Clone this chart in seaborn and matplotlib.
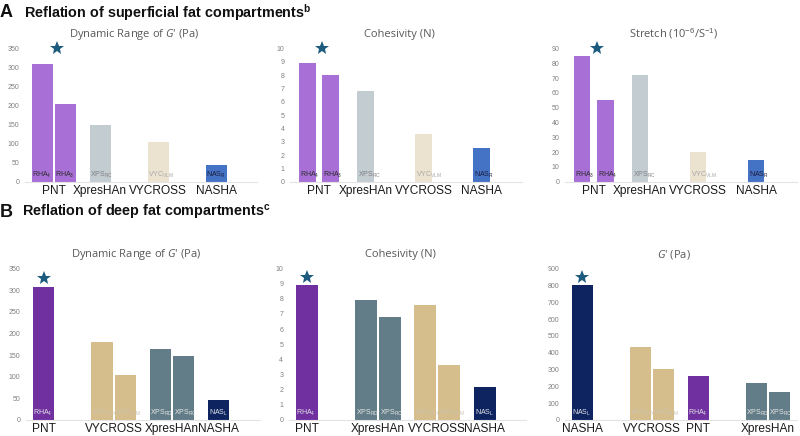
"""
Reflation of superficial / deep fat compartments: rheology bar panels.
"""

import matplotlib
matplotlib.use("Agg")
import matplotlib.pyplot as plt
import seaborn as sns
import pandas as pd

# ---- data -----------------------------------------------------------------
# top row (superficial), one entry per bar
top_brand = ["PNT", "PNT", "XpresHAn", "VYCROSS", "NASHA"]
top_slot = [0, 1, 0, 0, 0]
top_names = ["RHA$_4$", "RHA$_3$", r"XPS$_{\mathrm{RC}}$", r"VYC$_{\mathrm{VLM}}$", r"NAS$_{\mathrm{R}}$"]
top_names_stretch = ["RHA$_3$", "RHA$_4$", r"XPS$_{\mathrm{RC}}$", r"VYC$_{\mathrm{VLM}}$", r"NAS$_{\mathrm{R}}$"]
top_order = ["PNT", "XpresHAn", "VYCROSS", "NASHA"]
sup_g_range = [308, 204, 149, 104, 44]
sup_cohesivity = [8.9, 8.0, 6.8, 3.6, 2.5]
sup_stretch = [85, 55, 72, 20, 15]

# bottom row (deep)
deep_g_range_brand = ["PNT", "VYCROSS", "VYCROSS", "XpresHAn", "XpresHAn", "NASHA"]
deep_g_range_slot = [0, 0, 1, 0, 1, 0]
deep_g_range_names = ["RHA$_4$", r"VYC$_{\mathrm{VLX}}$", r"VYC$_{\mathrm{VLM}}$",
                      r"XPS$_{\mathrm{RD}}$", r"XPS$_{\mathrm{RC}}$", r"NAS$_{\mathrm{L}}$"]
deep_g_range = [308, 180, 103, 163, 148, 45]

deep_coh_brand = ["PNT", "XpresHAn", "XpresHAn", "VYCROSS", "VYCROSS", "NASHA"]
deep_coh_slot = [0, 0, 1, 0, 1, 0]
deep_coh_names = ["RHA$_4$", r"XPS$_{\mathrm{RD}}$", r"XPS$_{\mathrm{RC}}$",
                  r"VYC$_{\mathrm{VLX}}$", r"VYC$_{\mathrm{VLM}}$", r"NAS$_{\mathrm{L}}$"]
deep_cohesivity = [8.9, 7.9, 6.8, 7.6, 3.6, 2.2]

deep_g_brand = ["NASHA", "VYCROSS", "VYCROSS", "PNT", "XpresHAn", "XpresHAn"]
deep_g_slot = [0, 0, 1, 0, 0, 1]
deep_g_names = [r"NAS$_{\mathrm{L}}$", r"VYC$_{\mathrm{VLX}}$", r"VYC$_{\mathrm{VLM}}$",
                "RHA$_4$", r"XPS$_{\mathrm{RD}}$", r"XPS$_{\mathrm{RC}}$"]
deep_g_prime = [803, 436, 301, 260, 218, 168]

# colours per product line
top_colors = {"PNT": "#a86fd6", "XpresHAn": "#c3ccd0", "VYCROSS": "#ece2d0", "NASHA": "#4472c4"}
top_text = {"PNT": "#2a2a2a", "XpresHAn": "#808080", "VYCROSS": "#a8a8a8", "NASHA": "#1c1c3c"}
deep_colors = {"PNT": "#7030a0", "XpresHAn": "#637d88", "VYCROSS": "#d5bd8c", "NASHA": "#0d2461"}
deep_text = {"PNT": "#e6e6e6", "XpresHAn": "#e6e6e6", "VYCROSS": "#ccc4b4", "NASHA": "#e6e6e6"}
STAR = "#1c5b7e"

# ---- style ----------------------------------------------------------------
sns.set_theme(style="white")
plt.rcParams["font.family"] = ["Liberation Sans", "DejaVu Sans"]
plt.rcParams["mathtext.fontset"] = "custom"
plt.rcParams["mathtext.rm"] = "Liberation Sans"
plt.rcParams["mathtext.it"] = "Open Sans:italic"
plt.rcParams["mathtext.bf"] = "Liberation Sans:bold"


def panel(ax, brand, slot, names, values, order, colors, tcolors, title,
          ymax, ystep, gap, star_top):
    df = pd.DataFrame({"brand": brand, "slot": slot, "name": names, "value": values})
    sns.barplot(data=df, x="brand", y="value", hue="slot", hue_order=[0, 1],
                order=order, dodge=True, gap=gap, legend=False, ax=ax,
                palette=["#999999", "#999999"], saturation=1)

    # recolour every bar by its product line and add the inner label
    rank = {b: i for i, b in enumerate(order)}
    centers = {}
    for s, cont in zip([0, 1], ax.containers):
        sub = df[df["slot"] == s].copy()
        sub["r"] = sub["brand"].map(rank)
        sub = sub.sort_values("r")
        for bar, (_, row) in zip(cont, sub.iterrows()):
            bar.set_facecolor(colors[row["brand"]])
            bar.set_edgecolor("none")
            ax.annotate(row["name"], (bar.get_x(), 0), xytext=(0.5, 1.5),
                        textcoords="offset points", ha="left", va="bottom",
                        fontsize=5.0, color=tcolors[row["brand"]])
            centers.setdefault(row["brand"], []).append(
                (bar.get_x() + bar.get_width() / 2, bar.get_height()))

    # category labels sit under their bars
    ticks = [sum(c[0] for c in centers[b]) / len(centers[b]) for b in order]
    ax.set_xticks(ticks)
    ax.set_xticklabels(order, fontsize=8.6, color="#1a1a1a")
    ax.tick_params(axis="x", length=0, pad=2)
    ax.set_xlim(-0.5, len(order) - 0.5)

    ax.set_ylim(0, ymax)
    ax.set_yticks([ystep * i for i in range(int(round(ymax / ystep)) + 1)])
    ax.tick_params(axis="y", length=0, labelsize=5, labelcolor="#808080", pad=4)
    ax.set_ylabel("")
    ax.set_xlabel("")
    sns.despine(ax=ax, left=True, top=True, right=True)
    ax.spines["bottom"].set_color("#e3e3e3")
    ax.spines["bottom"].set_linewidth(0.8)
    ax.set_title(title, fontsize=8, color="#595959", x=0.47, pad=8,
                 family=["Open Sans", "DejaVu Sans"])

    # star over the winning product (first category)
    best = centers[order[0]]
    sx = sum(c[0] for c in best) / len(best)
    if star_top:
        sy = ymax
        sx += 0.05
    else:
        sy = max(c[1] for c in best) + ymax * 0.055
    ax.plot([sx], [sy], marker="*", markersize=10, color=STAR, clip_on=False,
            markeredgewidth=0)


fig = plt.figure(figsize=(8, 4.36), dpi=100)

top_y, top_h = 0.583, 0.306
bot_y, bot_h = 0.037, 0.347

ax1 = fig.add_axes([0.031, top_y, 0.29, top_h])
ax2 = fig.add_axes([0.3625, top_y, 0.29, top_h])
ax3 = fig.add_axes([0.706, top_y, 0.29, top_h])
ax4 = fig.add_axes([0.0325, bot_y, 0.292, bot_h])
ax5 = fig.add_axes([0.361, bot_y, 0.297, bot_h])
ax6 = fig.add_axes([0.706, bot_y, 0.29, bot_h])

panel(ax1, top_brand, top_slot, top_names, sup_g_range, top_order,
      top_colors, top_text, "Dynamic Range of $G$' (Pa)", 350, 50, 0.08, True)
panel(ax2, top_brand, top_slot, top_names, sup_cohesivity, top_order,
      top_colors, top_text, "Cohesivity (N)", 10, 1, 0.3, True)
panel(ax3, top_brand, top_slot, top_names_stretch, sup_stretch, top_order,
      top_colors, top_text, "Stretch (10$^{-6}$/S$^{-1}$)", 90, 10, 0.3, True)

panel(ax4, deep_g_range_brand, deep_g_range_slot, deep_g_range_names, deep_g_range,
      ["PNT", "VYCROSS", "XpresHAn", "NASHA"], deep_colors, deep_text,
      "Dynamic Range of $G$' (Pa)", 350, 50, 0.08, False)
panel(ax5, deep_coh_brand, deep_coh_slot, deep_coh_names, deep_cohesivity,
      ["PNT", "XpresHAn", "VYCROSS", "NASHA"], deep_colors, deep_text,
      "Cohesivity (N)", 10, 1, 0.08, False)
panel(ax6, deep_g_brand, deep_g_slot, deep_g_names, deep_g_prime,
      ["NASHA", "VYCROSS", "PNT", "XpresHAn"], deep_colors, deep_text,
      "$G$' (Pa)", 900, 100, 0.08, False)

# section headings
fig.text(0.0, 0.972, "A", fontsize=13, fontweight="bold", va="center", color="#111111")
fig.text(0.03, 0.972, r"Reflation of superficial fat compartments$^{\mathbf{b}}$",
         fontsize=10.4, fontweight="bold", va="center", color="#111111")
fig.text(0.0, 0.512, "B", fontsize=13, fontweight="bold", va="center", color="#111111")
fig.text(0.028, 0.512, r"Reflation of deep fat compartments$^{\mathbf{c}}$",
         fontsize=10.4, fontweight="bold", va="center", color="#111111")

fig.savefig("out.png", dpi=100)
